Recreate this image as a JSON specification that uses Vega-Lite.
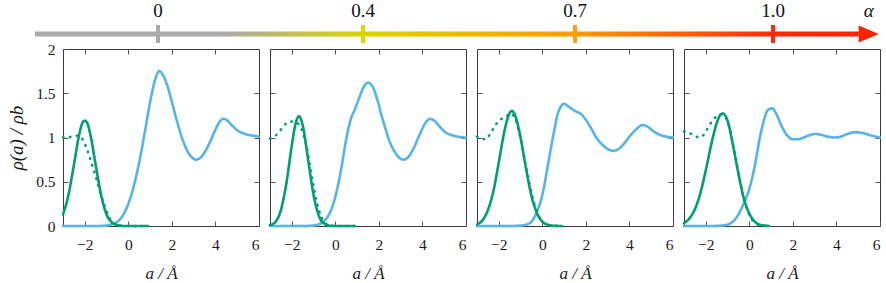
{
"$schema":"https://vega.github.io/schema/vega-lite/v6.json",
"background":"white",
"padding":{"left":7,"top":2,"right":2,"bottom":0},
"resolve":{"scale":{"color":"independent","strokeDash":"independent"}},
"config":{
 "font":"Liberation Serif",
 "view":{"stroke":"#3a3a3a","strokeWidth":1},
 "axis":{"domain":false,"grid":false,"tickSize":-5,"tickColor":"#555555","tickWidth":1,"labelFont":"Liberation Serif","labelFontSize":15.5,"labelColor":"#1a1a1a","titleFont":"Liberation Serif","titleFontSize":17,"titleFontWeight":"normal","titleColor":"#1a1a1a","titleFontStyle":"italic"},
 "axisLeft":{"labelPadding":13},
 "axisBottom":{"labelPadding":16}
},
"datasets":{
 "alpha":[{"v":0,"t":"0"},{"v":0.4,"t":"0.4"},{"v":0.7,"t":"0.7"},{"v":1.0,"t":"1.0"}],
 "bar":[{"from":-0.24,"to":1.13}],
 "head":[{"v":1.145,"t":"α"}],
 "curves":[
{"p":1,"s":"b","a":-3,"r":0},{"p":1,"s":"b","a":-2,"r":0},{"p":1,"s":"b","a":-1.5,"r":0},{"p":1,"s":"b","a":-1,"r":0.005},{"p":1,"s":"b","a":-0.75,"r":0.02},{"p":1,"s":"b","a":-0.5,"r":0.05},{"p":1,"s":"b","a":-0.25,"r":0.12},{"p":1,"s":"b","a":0,"r":0.25},{"p":1,"s":"b","a":0.25,"r":0.45},{"p":1,"s":"b","a":0.5,"r":0.72},{"p":1,"s":"b","a":0.75,"r":1.05},{"p":1,"s":"b","a":1.0,"r":1.4},{"p":1,"s":"b","a":1.25,"r":1.67},{"p":1,"s":"b","a":1.42,"r":1.75},{"p":1,"s":"b","a":1.6,"r":1.7},{"p":1,"s":"b","a":1.8,"r":1.58},{"p":1,"s":"b","a":2.0,"r":1.4},{"p":1,"s":"b","a":2.25,"r":1.17},{"p":1,"s":"b","a":2.5,"r":0.97},{"p":1,"s":"b","a":2.75,"r":0.83},{"p":1,"s":"b","a":3.0,"r":0.76},{"p":1,"s":"b","a":3.1,"r":0.75},{"p":1,"s":"b","a":3.25,"r":0.76},{"p":1,"s":"b","a":3.5,"r":0.83},{"p":1,"s":"b","a":3.75,"r":0.95},{"p":1,"s":"b","a":4.0,"r":1.09},{"p":1,"s":"b","a":4.2,"r":1.18},{"p":1,"s":"b","a":4.36,"r":1.21},{"p":1,"s":"b","a":4.5,"r":1.2},{"p":1,"s":"b","a":4.75,"r":1.14},{"p":1,"s":"b","a":5.0,"r":1.08},{"p":1,"s":"b","a":5.25,"r":1.05},{"p":1,"s":"b","a":5.5,"r":1.03},{"p":1,"s":"b","a":5.75,"r":1.02},{"p":1,"s":"b","a":6,"r":1.01},
{"p":1,"s":"d","a":-3,"r":1.0},{"p":1,"s":"d","a":-2.8,"r":1.0},{"p":1,"s":"d","a":-2.6,"r":1.01},{"p":1,"s":"d","a":-2.4,"r":1.02},{"p":1,"s":"d","a":-2.25,"r":1.02},{"p":1,"s":"d","a":-2.1,"r":0.98},{"p":1,"s":"d","a":-1.95,"r":0.9},{"p":1,"s":"d","a":-1.8,"r":0.8},{"p":1,"s":"d","a":-1.65,"r":0.68},{"p":1,"s":"d","a":-1.5,"r":0.56},{"p":1,"s":"d","a":-1.35,"r":0.43},{"p":1,"s":"d","a":-1.2,"r":0.31},{"p":1,"s":"d","a":-1.05,"r":0.2},{"p":1,"s":"d","a":-0.9,"r":0.11},{"p":1,"s":"d","a":-0.75,"r":0.05},{"p":1,"s":"d","a":-0.6,"r":0.02},{"p":1,"s":"d","a":-0.4,"r":0.005},{"p":1,"s":"d","a":0,"r":0},{"p":1,"s":"d","a":0.9,"r":0},
{"p":1,"s":"g","a":-3,"r":0.13},{"p":1,"s":"g","a":-2.75,"r":0.35},{"p":1,"s":"g","a":-2.5,"r":0.69},{"p":1,"s":"g","a":-2.25,"r":1.04},{"p":1,"s":"g","a":-2.1,"r":1.17},{"p":1,"s":"g","a":-2.0,"r":1.19},{"p":1,"s":"g","a":-1.9,"r":1.17},{"p":1,"s":"g","a":-1.75,"r":1.04},{"p":1,"s":"g","a":-1.5,"r":0.69},{"p":1,"s":"g","a":-1.25,"r":0.35},{"p":1,"s":"g","a":-1.0,"r":0.13},{"p":1,"s":"g","a":-0.75,"r":0.04},{"p":1,"s":"g","a":-0.5,"r":0.01},{"p":1,"s":"g","a":-0.25,"r":0},{"p":1,"s":"g","a":0.9,"r":0},
{"p":2,"s":"b","a":-3,"r":0},{"p":2,"s":"b","a":-1.5,"r":0},{"p":2,"s":"b","a":-1,"r":0.005},{"p":2,"s":"b","a":-0.75,"r":0.02},{"p":2,"s":"b","a":-0.5,"r":0.06},{"p":2,"s":"b","a":-0.25,"r":0.15},{"p":2,"s":"b","a":0,"r":0.33},{"p":2,"s":"b","a":0.25,"r":0.62},{"p":2,"s":"b","a":0.5,"r":0.98},{"p":2,"s":"b","a":0.7,"r":1.2},{"p":2,"s":"b","a":0.9,"r":1.32},{"p":2,"s":"b","a":1.1,"r":1.45},{"p":2,"s":"b","a":1.3,"r":1.57},{"p":2,"s":"b","a":1.5,"r":1.62},{"p":2,"s":"b","a":1.7,"r":1.58},{"p":2,"s":"b","a":1.9,"r":1.45},{"p":2,"s":"b","a":2.1,"r":1.27},{"p":2,"s":"b","a":2.3,"r":1.1},{"p":2,"s":"b","a":2.5,"r":0.95},{"p":2,"s":"b","a":2.75,"r":0.83},{"p":2,"s":"b","a":3.0,"r":0.76},{"p":2,"s":"b","a":3.15,"r":0.75},{"p":2,"s":"b","a":3.35,"r":0.78},{"p":2,"s":"b","a":3.6,"r":0.88},{"p":2,"s":"b","a":3.85,"r":1.02},{"p":2,"s":"b","a":4.1,"r":1.15},{"p":2,"s":"b","a":4.35,"r":1.21},{"p":2,"s":"b","a":4.55,"r":1.19},{"p":2,"s":"b","a":4.8,"r":1.12},{"p":2,"s":"b","a":5.05,"r":1.06},{"p":2,"s":"b","a":5.3,"r":1.03},{"p":2,"s":"b","a":5.6,"r":1.01},{"p":2,"s":"b","a":6,"r":1.0},
{"p":2,"s":"d","a":-3,"r":0.99},{"p":2,"s":"d","a":-2.75,"r":1.02},{"p":2,"s":"d","a":-2.5,"r":1.09},{"p":2,"s":"d","a":-2.25,"r":1.16},{"p":2,"s":"d","a":-2.0,"r":1.18},{"p":2,"s":"d","a":-1.8,"r":1.17},{"p":2,"s":"d","a":-1.6,"r":1.12},{"p":2,"s":"d","a":-1.45,"r":1.02},{"p":2,"s":"d","a":-1.3,"r":0.88},{"p":2,"s":"d","a":-1.15,"r":0.66},{"p":2,"s":"d","a":-1.0,"r":0.45},{"p":2,"s":"d","a":-0.85,"r":0.27},{"p":2,"s":"d","a":-0.7,"r":0.14},{"p":2,"s":"d","a":-0.55,"r":0.06},{"p":2,"s":"d","a":-0.4,"r":0.02},{"p":2,"s":"d","a":-0.2,"r":0.005},{"p":2,"s":"d","a":0.2,"r":0},{"p":2,"s":"d","a":0.9,"r":0},
{"p":2,"s":"g","a":-3,"r":0.01},{"p":2,"s":"g","a":-2.75,"r":0.046},{"p":2,"s":"g","a":-2.5,"r":0.18},{"p":2,"s":"g","a":-2.25,"r":0.48},{"p":2,"s":"g","a":-2.0,"r":0.91},{"p":2,"s":"g","a":-1.85,"r":1.13},{"p":2,"s":"g","a":-1.67,"r":1.24},{"p":2,"s":"g","a":-1.5,"r":1.14},{"p":2,"s":"g","a":-1.25,"r":0.75},{"p":2,"s":"g","a":-1.0,"r":0.35},{"p":2,"s":"g","a":-0.75,"r":0.11},{"p":2,"s":"g","a":-0.5,"r":0.026},{"p":2,"s":"g","a":-0.25,"r":0.003},{"p":2,"s":"g","a":0,"r":0},{"p":2,"s":"g","a":0.9,"r":0},
{"p":3,"s":"b","a":-3,"r":0},{"p":3,"s":"b","a":-1.5,"r":0},{"p":3,"s":"b","a":-1.0,"r":0.005},{"p":3,"s":"b","a":-0.75,"r":0.015},{"p":3,"s":"b","a":-0.5,"r":0.05},{"p":3,"s":"b","a":-0.25,"r":0.16},{"p":3,"s":"b","a":0,"r":0.35},{"p":3,"s":"b","a":0.25,"r":0.68},{"p":3,"s":"b","a":0.5,"r":1.02},{"p":3,"s":"b","a":0.7,"r":1.26},{"p":3,"s":"b","a":0.85,"r":1.35},{"p":3,"s":"b","a":1.0,"r":1.38},{"p":3,"s":"b","a":1.2,"r":1.35},{"p":3,"s":"b","a":1.5,"r":1.3},{"p":3,"s":"b","a":1.8,"r":1.26},{"p":3,"s":"b","a":2.0,"r":1.2},{"p":3,"s":"b","a":2.25,"r":1.1},{"p":3,"s":"b","a":2.5,"r":0.99},{"p":3,"s":"b","a":2.75,"r":0.92},{"p":3,"s":"b","a":3.0,"r":0.87},{"p":3,"s":"b","a":3.25,"r":0.85},{"p":3,"s":"b","a":3.5,"r":0.87},{"p":3,"s":"b","a":3.75,"r":0.93},{"p":3,"s":"b","a":4.0,"r":1.01},{"p":3,"s":"b","a":4.3,"r":1.09},{"p":3,"s":"b","a":4.6,"r":1.14},{"p":3,"s":"b","a":4.85,"r":1.12},{"p":3,"s":"b","a":5.1,"r":1.07},{"p":3,"s":"b","a":5.4,"r":1.03},{"p":3,"s":"b","a":5.7,"r":1.01},{"p":3,"s":"b","a":6,"r":1.0},
{"p":3,"s":"d","a":-3,"r":1.01},{"p":3,"s":"d","a":-2.8,"r":0.99},{"p":3,"s":"d","a":-2.6,"r":0.98},{"p":3,"s":"d","a":-2.4,"r":1.04},{"p":3,"s":"d","a":-2.2,"r":1.12},{"p":3,"s":"d","a":-2.0,"r":1.19},{"p":3,"s":"d","a":-1.8,"r":1.22},{"p":3,"s":"d","a":-1.6,"r":1.25},{"p":3,"s":"d","a":-1.45,"r":1.27},{"p":3,"s":"d","a":-1.3,"r":1.24},{"p":3,"s":"d","a":-1.15,"r":1.14},{"p":3,"s":"d","a":-1.0,"r":0.99},{"p":3,"s":"d","a":-0.8,"r":0.74},{"p":3,"s":"d","a":-0.6,"r":0.49},{"p":3,"s":"d","a":-0.4,"r":0.28},{"p":3,"s":"d","a":-0.2,"r":0.13},{"p":3,"s":"d","a":0,"r":0.05},{"p":3,"s":"d","a":0.2,"r":0.016},{"p":3,"s":"d","a":0.45,"r":0.004},{"p":3,"s":"d","a":0.9,"r":0},
{"p":3,"s":"g","a":-3,"r":0.019},{"p":3,"s":"g","a":-2.75,"r":0.064},{"p":3,"s":"g","a":-2.5,"r":0.18},{"p":3,"s":"g","a":-2.25,"r":0.39},{"p":3,"s":"g","a":-2.0,"r":0.72},{"p":3,"s":"g","a":-1.75,"r":1.06},{"p":3,"s":"g","a":-1.55,"r":1.25},{"p":3,"s":"g","a":-1.4,"r":1.3},{"p":3,"s":"g","a":-1.25,"r":1.25},{"p":3,"s":"g","a":-1.0,"r":1.0},{"p":3,"s":"g","a":-0.75,"r":0.65},{"p":3,"s":"g","a":-0.5,"r":0.34},{"p":3,"s":"g","a":-0.25,"r":0.146},{"p":3,"s":"g","a":0,"r":0.05},{"p":3,"s":"g","a":0.25,"r":0.014},{"p":3,"s":"g","a":0.5,"r":0.003},{"p":3,"s":"g","a":0.9,"r":0},
{"p":4,"s":"b","a":-3,"r":0},{"p":4,"s":"b","a":-1.75,"r":0},{"p":4,"s":"b","a":-1.25,"r":0.005},{"p":4,"s":"b","a":-1.0,"r":0.015},{"p":4,"s":"b","a":-0.75,"r":0.05},{"p":4,"s":"b","a":-0.5,"r":0.13},{"p":4,"s":"b","a":-0.25,"r":0.26},{"p":4,"s":"b","a":0,"r":0.42},{"p":4,"s":"b","a":0.25,"r":0.68},{"p":4,"s":"b","a":0.5,"r":1.02},{"p":4,"s":"b","a":0.7,"r":1.22},{"p":4,"s":"b","a":0.85,"r":1.31},{"p":4,"s":"b","a":1.05,"r":1.33},{"p":4,"s":"b","a":1.25,"r":1.26},{"p":4,"s":"b","a":1.5,"r":1.12},{"p":4,"s":"b","a":1.75,"r":1.02},{"p":4,"s":"b","a":2.0,"r":0.98},{"p":4,"s":"b","a":2.2,"r":0.98},{"p":4,"s":"b","a":2.5,"r":1.0},{"p":4,"s":"b","a":2.8,"r":1.03},{"p":4,"s":"b","a":3.05,"r":1.04},{"p":4,"s":"b","a":3.3,"r":1.03},{"p":4,"s":"b","a":3.6,"r":1.01},{"p":4,"s":"b","a":3.9,"r":1.0},{"p":4,"s":"b","a":4.2,"r":1.01},{"p":4,"s":"b","a":4.5,"r":1.04},{"p":4,"s":"b","a":4.85,"r":1.06},{"p":4,"s":"b","a":5.2,"r":1.05},{"p":4,"s":"b","a":5.5,"r":1.03},{"p":4,"s":"b","a":5.8,"r":1.01},{"p":4,"s":"b","a":6,"r":1.0},
{"p":4,"s":"d","a":-3,"r":1.07},{"p":4,"s":"d","a":-2.75,"r":1.05},{"p":4,"s":"d","a":-2.5,"r":1.02},{"p":4,"s":"d","a":-2.3,"r":1.0},{"p":4,"s":"d","a":-2.1,"r":1.03},{"p":4,"s":"d","a":-1.9,"r":1.11},{"p":4,"s":"d","a":-1.7,"r":1.19},{"p":4,"s":"d","a":-1.5,"r":1.24},{"p":4,"s":"d","a":-1.3,"r":1.26},{"p":4,"s":"d","a":-1.1,"r":1.23},{"p":4,"s":"d","a":-0.9,"r":1.1},{"p":4,"s":"d","a":-0.7,"r":0.86},{"p":4,"s":"d","a":-0.5,"r":0.6},{"p":4,"s":"d","a":-0.3,"r":0.36},{"p":4,"s":"d","a":-0.1,"r":0.19},{"p":4,"s":"d","a":0.1,"r":0.08},{"p":4,"s":"d","a":0.3,"r":0.03},{"p":4,"s":"d","a":0.5,"r":0.01},{"p":4,"s":"d","a":0.9,"r":0},
{"p":4,"s":"g","a":-3,"r":0.033},{"p":4,"s":"g","a":-2.75,"r":0.086},{"p":4,"s":"g","a":-2.5,"r":0.19},{"p":4,"s":"g","a":-2.25,"r":0.37},{"p":4,"s":"g","a":-2.0,"r":0.63},{"p":4,"s":"g","a":-1.75,"r":0.92},{"p":4,"s":"g","a":-1.5,"r":1.16},{"p":4,"s":"g","a":-1.35,"r":1.25},{"p":4,"s":"g","a":-1.22,"r":1.27},{"p":4,"s":"g","a":-1.0,"r":1.19},{"p":4,"s":"g","a":-0.75,"r":0.91},{"p":4,"s":"g","a":-0.5,"r":0.59},{"p":4,"s":"g","a":-0.25,"r":0.31},{"p":4,"s":"g","a":0,"r":0.14},{"p":4,"s":"g","a":0.25,"r":0.05},{"p":4,"s":"g","a":0.5,"r":0.012},{"p":4,"s":"g","a":0.75,"r":0.003},{"p":4,"s":"g","a":0.9,"r":0}
 ]
},
"spacing":6,
"bounds":"flush",
"vconcat":[
 {
  "width":818,"height":18,
  "view":{"stroke":null},
  "layer":[
   {"data":{"name":"bar"},
    "mark":{"type":"rect","fill":{"gradient":"linear","x1":0,"y1":0,"x2":1,"y2":0,"stops":[{"offset":0,"color":"#aaaaaa"},{"offset":0.225,"color":"#aaaaaa"},{"offset":0.398,"color":"#d9d500"},{"offset":0.655,"color":"#ff9a00"},{"offset":0.896,"color":"#ff2a00"},{"offset":1,"color":"#ff2200"}]}},
    "encoding":{
     "x":{"field":"from","type":"quantitative","scale":{"domain":[0,0.4,0.7,1.0],"range":[95,300,512,710],"nice":false,"zero":false},"axis":null},
     "x2":{"field":"to"},
     "y":{"datum":-0.28,"type":"quantitative","scale":{"domain":[-1,1]},"axis":null},
     "y2":{"datum":0.28}
    }},
   {"data":{"name":"alpha"},
    "mark":{"type":"rule","strokeWidth":4},
    "encoding":{
     "x":{"field":"v","type":"quantitative","scale":{"domain":[0,0.4,0.7,1.0],"range":[95,300,512,710],"nice":false,"zero":false},"axis":null},
     "y":{"datum":-1,"type":"quantitative","scale":{"domain":[-1,1]},"axis":null},
     "y2":{"datum":1},
     "color":{"field":"t","type":"nominal","scale":{"domain":["0","0.4","0.7","1.0"],"range":["#aaaaaa","#dcd700","#ff9c10","#ff2a10"]},"legend":null}
    }},
   {"data":{"name":"alpha"},
    "mark":{"type":"text","fontSize":19,"dy":-14,"baseline":"middle","color":"#111111","font":"Liberation Serif"},
    "encoding":{
     "x":{"field":"v","type":"quantitative","scale":{"domain":[0,0.4,0.7,1.0],"range":[95,300,512,710],"nice":false,"zero":false},"axis":null},
     "y":{"datum":1,"type":"quantitative","scale":{"domain":[-1,1]},"axis":null},
     "text":{"field":"t"}
    }},
   {"data":{"name":"head"},
    "mark":{"type":"point","shape":"M-1,-0.85L1,0L-1,0.85Z","size":400,"filled":true,"opacity":1,"color":"#ff2200"},
    "encoding":{
     "x":{"field":"v","type":"quantitative","scale":{"domain":[0,0.4,0.7,1.0],"range":[95,300,512,710],"nice":false,"zero":false},"axis":null},
     "y":{"datum":0,"type":"quantitative","scale":{"domain":[-1,1]},"axis":null}
    }},
   {"data":{"name":"head"},
    "mark":{"type":"text","fontSize":19,"dy":-14,"baseline":"middle","color":"#111111","font":"Liberation Serif","fontStyle":"italic"},
    "encoding":{
     "x":{"field":"v","type":"quantitative","scale":{"domain":[0,0.4,0.7,1.0],"range":[95,300,512,710],"nice":false,"zero":false},"axis":null},
     "y":{"datum":1,"type":"quantitative","scale":{"domain":[-1,1]},"axis":null},
     "text":{"field":"t"}
    }}
  ]
 },
 {
  "spacing":11,
  "bounds":"flush",
  "hconcat":[
   {"width":196,"height":177,"data":{"name":"curves"},"transform":[{"filter":"datum.p==1"}],
    "layer":[
     {"mark":{"type":"line","strokeWidth":2.6,"strokeCap":"round","interpolate":"monotone"},
      "encoding":{
       "x":{"field":"a","type":"quantitative","scale":{"domain":[-3,6],"nice":false,"zero":false},"axis":{"orient":"bottom","values":[-2,0,2,4,6],"title":"a / Å","titlePadding":13}},
       "y":{"field":"r","type":"quantitative","scale":{"domain":[0,2],"nice":false},"axis":{"orient":"left","values":[0,0.5,1,1.5,2],"format":"~g","title":"ρ(a) / ρb","titlePadding":9,"titleFontSize":19}},
       "color":{"field":"s","type":"nominal","scale":{"domain":["b","d","g"],"range":["#56B4E9","#009E73","#009E73"]},"legend":null},
       "strokeDash":{"field":"s","type":"nominal","scale":{"domain":["b","d","g"],"range":[[1,0],[0.5,6.5],[1,0]]},"legend":null}
      }},
     {"mark":{"type":"point","opacity":0},
      "encoding":{
       "x":{"field":"a","type":"quantitative","scale":{"domain":[-3,6],"nice":false,"zero":false},"axis":{"orient":"top","values":[-2,0,2,4],"labels":false,"title":null}},
       "y":{"field":"r","type":"quantitative","scale":{"domain":[0,2],"nice":false},"axis":{"orient":"right","values":[0.5,1,1.5],"labels":false,"title":null}}
      }}
    ],
    "resolve":{"axis":{"x":"independent","y":"independent"}}
   },
   {"width":196,"height":177,"data":{"name":"curves"},"transform":[{"filter":"datum.p==2"}],
    "layer":[
     {"mark":{"type":"line","strokeWidth":2.6,"strokeCap":"round","interpolate":"monotone"},
      "encoding":{
       "x":{"field":"a","type":"quantitative","scale":{"domain":[-3,6],"nice":false,"zero":false},"axis":{"orient":"bottom","values":[-2,0,2,4,6],"title":"a / Å","titlePadding":13}},
       "y":{"field":"r","type":"quantitative","scale":{"domain":[0,2],"nice":false},"axis":{"orient":"left","values":[0.5,1,1.5],"labels":false,"title":null}},
       "color":{"field":"s","type":"nominal","scale":{"domain":["b","d","g"],"range":["#56B4E9","#009E73","#009E73"]},"legend":null},
       "strokeDash":{"field":"s","type":"nominal","scale":{"domain":["b","d","g"],"range":[[1,0],[0.5,6.5],[1,0]]},"legend":null}
      }},
     {"mark":{"type":"point","opacity":0},
      "encoding":{
       "x":{"field":"a","type":"quantitative","scale":{"domain":[-3,6],"nice":false,"zero":false},"axis":{"orient":"top","values":[-2,0,2,4],"labels":false,"title":null}},
       "y":{"field":"r","type":"quantitative","scale":{"domain":[0,2],"nice":false},"axis":{"orient":"right","values":[0.5,1,1.5],"labels":false,"title":null}}
      }}
    ],
    "resolve":{"axis":{"x":"independent","y":"independent"}}
   },
   {"width":196,"height":177,"data":{"name":"curves"},"transform":[{"filter":"datum.p==3"}],
    "layer":[
     {"mark":{"type":"line","strokeWidth":2.6,"strokeCap":"round","interpolate":"monotone"},
      "encoding":{
       "x":{"field":"a","type":"quantitative","scale":{"domain":[-3,6],"nice":false,"zero":false},"axis":{"orient":"bottom","values":[-2,0,2,4,6],"title":"a / Å","titlePadding":13}},
       "y":{"field":"r","type":"quantitative","scale":{"domain":[0,2],"nice":false},"axis":{"orient":"left","values":[0.5,1,1.5],"labels":false,"title":null}},
       "color":{"field":"s","type":"nominal","scale":{"domain":["b","d","g"],"range":["#56B4E9","#009E73","#009E73"]},"legend":null},
       "strokeDash":{"field":"s","type":"nominal","scale":{"domain":["b","d","g"],"range":[[1,0],[0.5,6.5],[1,0]]},"legend":null}
      }},
     {"mark":{"type":"point","opacity":0},
      "encoding":{
       "x":{"field":"a","type":"quantitative","scale":{"domain":[-3,6],"nice":false,"zero":false},"axis":{"orient":"top","values":[-2,0,2,4],"labels":false,"title":null}},
       "y":{"field":"r","type":"quantitative","scale":{"domain":[0,2],"nice":false},"axis":{"orient":"right","values":[0.5,1,1.5],"labels":false,"title":null}}
      }}
    ],
    "resolve":{"axis":{"x":"independent","y":"independent"}}
   },
   {"width":196,"height":177,"data":{"name":"curves"},"transform":[{"filter":"datum.p==4"}],
    "layer":[
     {"mark":{"type":"line","strokeWidth":2.6,"strokeCap":"round","interpolate":"monotone"},
      "encoding":{
       "x":{"field":"a","type":"quantitative","scale":{"domain":[-3,6],"nice":false,"zero":false},"axis":{"orient":"bottom","values":[-2,0,2,4,6],"title":"a / Å","titlePadding":13}},
       "y":{"field":"r","type":"quantitative","scale":{"domain":[0,2],"nice":false},"axis":{"orient":"left","values":[0.5,1,1.5],"labels":false,"title":null}},
       "color":{"field":"s","type":"nominal","scale":{"domain":["b","d","g"],"range":["#56B4E9","#009E73","#009E73"]},"legend":null},
       "strokeDash":{"field":"s","type":"nominal","scale":{"domain":["b","d","g"],"range":[[1,0],[0.5,6.5],[1,0]]},"legend":null}
      }},
     {"mark":{"type":"point","opacity":0},
      "encoding":{
       "x":{"field":"a","type":"quantitative","scale":{"domain":[-3,6],"nice":false,"zero":false},"axis":{"orient":"top","values":[-2,0,2,4],"labels":false,"title":null}},
       "y":{"field":"r","type":"quantitative","scale":{"domain":[0,2],"nice":false},"axis":{"orient":"right","values":[0.5,1,1.5],"labels":false,"title":null}}
      }}
    ],
    "resolve":{"axis":{"x":"independent","y":"independent"}}
   }
  ]
 }
]
}
